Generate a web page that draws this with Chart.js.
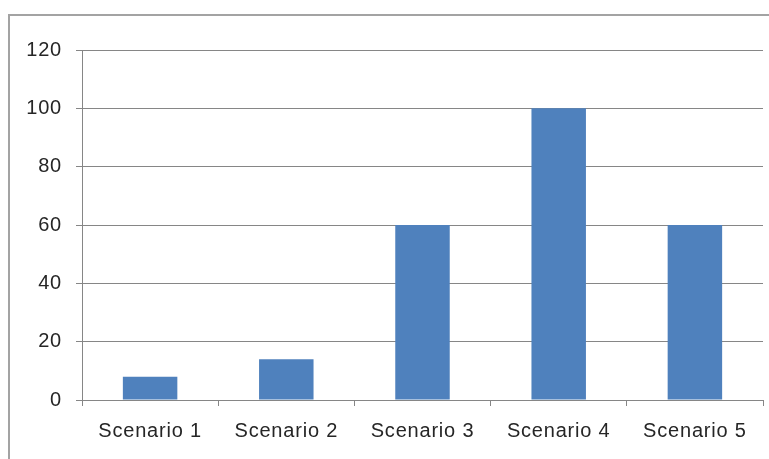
<!DOCTYPE html>
<html>
<head>
<meta charset="utf-8">
<script src="https://cdn.jsdelivr.net/npm/chart.js@4/dist/chart.umd.min.js"></script>
<style>
  html, body { margin: 0; padding: 0; background: #fff; overflow: hidden; }
  #frame { position: absolute; left: 8px; top: 14px; width: 900px; height: 600px;
           border-left: 2px solid #a3a3a3; border-top: 2px solid #a3a3a3; }
  #wrap { position: absolute; left: 0; top: 0; width: 769px; height: 459px; }
</style>
</head>
<body>
<div id="frame"></div>
<div id="wrap"><canvas id="c" width="769" height="459"></canvas></div>
<script>
const categories = ["Scenario 1", "Scenario 2", "Scenario 3", "Scenario 4", "Scenario 5"];
const values = [8, 14, 60, 100, 60];
const yTicks = [0, 20, 40, 60, 80, 100, 120];

const gridColor = "#868686";
const textColor = "#262626";
const font = { family: "'Liberation Sans', Arial, sans-serif", size: 20 };

const spacing = {
  id: "spacing",
  beforeDraw(chart) { chart.ctx.letterSpacing = "0.8px"; }
};

new Chart(document.getElementById("c"), {
  type: "bar",
  data: {
    labels: categories,
    datasets: [{
      data: values,
      backgroundColor: "#4f81bd",
      borderWidth: 0,
      barPercentage: 0.4,
      categoryPercentage: 1.0
    }]
  },
  plugins: [spacing],
  options: {
    responsive: false,
    animation: false,
    layout: { padding: { top: 50, right: 6, bottom: 0, left: 0 } },
    plugins: { legend: { display: false }, tooltip: { enabled: false }, title: { display: false } },
    scales: {
      x: {
        grid: { offset: true, drawOnChartArea: false, drawTicks: true, tickLength: 6, color: gridColor },
        border: { display: true, color: gridColor, width: 1 },
        ticks: { color: textColor, font: font, padding: 13, maxRotation: 0, autoSkip: false },
        afterFit: (s) => { s.height = 59; }
      },
      y: {
        min: 0, max: 120,
        afterBuildTicks: (s) => { s.ticks = yTicks.map(v => ({ value: v })); },
        grid: { color: gridColor, tickLength: 6, drawTicks: true },
        border: { display: true, color: gridColor, width: 1 },
        ticks: { color: textColor, font: font, padding: 14 },
        afterFit: (s) => { s.width = 82; }
      }
    }
  }
});
</script>
</body>
</html>
